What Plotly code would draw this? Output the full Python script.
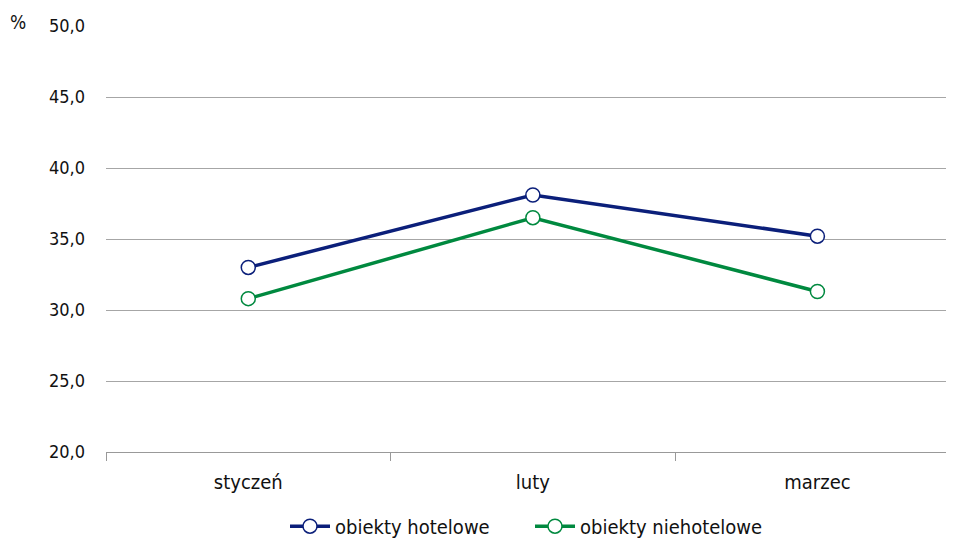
import plotly.graph_objects as go

categories = ["styczeń", "luty", "marzec"]
hotel = [33.0, 38.1, 35.2]
niehotel = [30.8, 36.5, 31.3]
y_ticks = [20, 25, 30, 35, 40, 45, 50]
y_tick_labels = ["20,0", "25,0", "30,0", "35,0", "40,0", "45,0", "50,0"]

FONT = "DejaVu Sans Condensed, Liberation Sans Narrow, Roboto Condensed, sans-serif"
NAVY = "#0B1F7A"
GREEN = "#00893F"

fig = go.Figure()
fig.add_trace(go.Scatter(
    x=categories, y=hotel, name="obiekty hotelowe", mode="lines+markers",
    line=dict(color=NAVY, width=3.5),
    marker=dict(symbol="circle", size=14, color="white", line=dict(color=NAVY, width=1.5)),
))
fig.add_trace(go.Scatter(
    x=categories, y=niehotel, name="obiekty niehotelowe", mode="lines+markers",
    line=dict(color=GREEN, width=3.5),
    marker=dict(symbol="circle", size=14, color="white", line=dict(color=GREEN, width=1.5)),
))

fig.update_layout(
    width=946, height=532,
    margin=dict(l=98, r=0, t=18, b=88),
    paper_bgcolor="white", plot_bgcolor="white",
    font=dict(family=FONT, size=20, color="#111111"),
    showlegend=True,
    legend=dict(orientation="h", x=0.5, xanchor="center", xref="paper",
                y=0.026, yanchor="middle", yref="container",
                font=dict(size=20), itemwidth=40, entrywidth=190, entrywidthmode="pixels"),
    xaxis=dict(
        type="category", range=[-0.5, 2.48], showgrid=False,
        showline=True, linecolor="#999999", linewidth=1.2,
        ticks="outside", tickson="boundaries", ticklen=8, tickcolor="#999999",
        ticklabelstandoff=12, tickfont=dict(size=20),
    ),
    yaxis=dict(
        range=[20, 50], tickvals=y_ticks, ticktext=y_tick_labels,
        showgrid=True, gridcolor="#A6A6A6", gridwidth=1.2,
        zeroline=False, showline=False, ticks="", ticklabelstandoff=20,
        tickfont=dict(size=18),
    ),
    annotations=[dict(text="%", x=-0.104, y=1.01, xref="paper", yref="paper", showarrow=False,
                      font=dict(size=19), xanchor="center", yanchor="middle")],
)
fig.write_html("out.html")
